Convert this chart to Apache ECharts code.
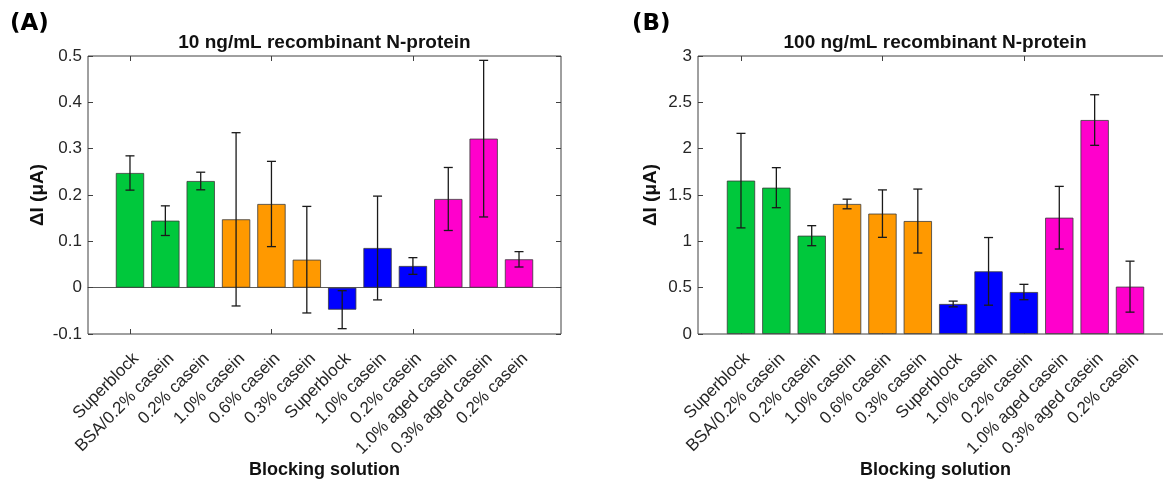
<!DOCTYPE html>
<html>
<head>
<meta charset="utf-8">
<script src="https://cdn.jsdelivr.net/npm/echarts@6/dist/echarts.min.js"></script>
<style>
  html, body { margin: 0; padding: 0; overflow: hidden; background: #ffffff; }
  #chart { width: 1200px; height: 479px; }
</style>
</head>
<body>
<div id="chart"></div>
<script>
// Blocking solutions tested (same order in both panels)
const categories = [
  'Superblock', 'BSA/0.2% casein', '0.2% casein', '1.0% casein', '0.6% casein', '0.3% casein',
  'Superblock', '1.0% casein', '0.2% casein', '1.0% aged casein', '0.3% aged casein', '0.2% casein'
];
// Group of each bar (0 green, 1 orange, 2 blue, 3 magenta)
const groups = [0, 0, 0, 1, 1, 1, 2, 2, 2, 3, 3, 3];

// (A) 10 ng/mL recombinant N-protein: mean ΔI and error (µA)
const meanA = [0.2475, 0.1446, 0.2302, 0.1475, 0.1806, 0.0604, -0.0475, 0.0856, 0.0468, 0.1914, 0.3216, 0.0612];
const errA  = [0.037, 0.032, 0.019, 0.187, 0.092, 0.115, 0.041, 0.112, 0.018, 0.068, 0.169, 0.0166];

// (B) 100 ng/mL recombinant N-protein: mean ΔI and error (µA)
const meanB = [1.655, 1.579, 1.061, 1.403, 1.299, 1.219, 0.324, 0.676, 0.453, 1.255, 2.309, 0.511];
const errB  = [0.51, 0.216, 0.108, 0.052, 0.256, 0.345, 0.031, 0.365, 0.083, 0.338, 0.273, 0.275];

// Y tick labels
const yTicksA = [-0.1, 0, 0.1, 0.2, 0.3, 0.4, 0.5];
const yTicksB = [0, 0.5, 1, 1.5, 2, 2.5, 3];

const palette = ['#00C83C', '#FF9900', '#0000FF', '#FF00CC'];
const FONT = '"Liberation Sans", Arial, Helvetica, sans-serif';
const TEXT = '#262626';
const FRAME = '#404040';

const TOP = 56, HEIGHT = 278;

const grid = [], xAxis = [], yAxis = [], series = [], title = [];

function addPanel(cfg) {
  const g0 = grid.length;
  const ticks = cfg.ticks;
  const yMin = ticks[0], yMax = ticks[ticks.length - 1];
  const yInt = +(ticks[1] - ticks[0]).toFixed(6);

  // frame grid: box, y ticks/labels, zero line
  grid.push({ left: cfg.frameLeft, top: TOP, width: cfg.frameWidth, height: HEIGHT,
              outerBoundsMode: 'none', containLabel: false,
              show: true, borderColor: FRAME, borderWidth: 1, backgroundColor: 'transparent' });
  // bar grid: category bands
  grid.push({ left: cfg.barsLeft, top: TOP, width: cfg.barsWidth, height: HEIGHT,
              outerBoundsMode: 'none', containLabel: false });
  // label grid: rotated category labels
  grid.push({ left: cfg.barsLeft + 6, top: TOP, width: cfg.barsWidth, height: HEIGHT,
              outerBoundsMode: 'none', containLabel: false });

  const y0 = yAxis.length;
  yAxis.push({
    gridIndex: g0, type: 'value', position: 'left', min: yMin, max: yMax, interval: yInt,
    axisLine: { show: false },
    axisTick: { show: true, inside: true, length: 5, lineStyle: { color: FRAME } },
    axisLabel: { margin: 6, fontSize: 17, color: TEXT, fontFamily: FONT },
    splitLine: { show: false },
    name: 'ΔI (μA)', nameLocation: 'middle', nameGap: cfg.nameGap, nameRotate: 90,
    nameTextStyle: { fontSize: 19, fontWeight: 'bold', color: '#111', fontFamily: FONT }
  });
  yAxis.push({
    gridIndex: g0, type: 'value', position: 'right', min: yMin, max: yMax, interval: yInt,
    axisLine: { show: false },
    axisTick: { show: true, inside: true, length: 5, lineStyle: { color: FRAME } },
    axisLabel: { show: false }, splitLine: { show: false }
  });
  yAxis.push({ gridIndex: g0 + 1, type: 'value', min: yMin, max: yMax, show: false });
  yAxis.push({ gridIndex: g0 + 2, type: 'value', min: yMin, max: yMax, show: false });

  const x0 = xAxis.length;
  xAxis.push({
    gridIndex: g0, type: 'value', min: 0, max: 1, position: 'bottom',
    axisLine: { show: cfg.zeroLine, onZero: true, lineStyle: { color: '#5a5a5a', width: 1 } },
    axisTick: { show: false }, axisLabel: { show: false }, splitLine: { show: false }
  });
  xAxis.push({
    gridIndex: g0 + 1, type: 'category', data: categories, position: 'bottom',
    axisLine: { show: false, onZero: false },
    axisTick: { show: true, inside: true, alignWithLabel: true, length: 5, lineStyle: { color: FRAME } },
    axisLabel: { show: false }, splitLine: { show: false },
    name: 'Blocking solution', nameLocation: 'middle', nameGap: 127,
    nameTextStyle: { fontSize: 18, fontWeight: 'bold', color: '#111', fontFamily: FONT }
  });
  xAxis.push({
    gridIndex: g0 + 1, type: 'category', data: categories, position: 'top',
    axisLine: { show: false, onZero: false },
    axisTick: { show: true, inside: true, alignWithLabel: true, length: 5, lineStyle: { color: FRAME } },
    axisLabel: { show: false }, splitLine: { show: false }
  });
  xAxis.push({
    gridIndex: g0 + 2, type: 'category', data: categories, position: 'bottom',
    axisLine: { show: false, onZero: false }, axisTick: { show: false },
    axisLabel: { show: true, interval: 0, rotate: 45, margin: 22, fontSize: 17, color: TEXT, fontFamily: FONT },
    splitLine: { show: false }
  });

  series.push({
    type: 'bar', xAxisIndex: x0 + 1, yAxisIndex: y0 + 2,
    barCategoryGap: '20%',
    data: cfg.mean.map((v, i) => ({
      value: v,
      itemStyle: { color: palette[groups[i]], borderColor: '#3a3a3a', borderWidth: 0.8 }
    })),
    silent: true, animation: false
  });
  series.push({
    type: 'custom', xAxisIndex: x0 + 1, yAxisIndex: y0 + 2, z: 5,
    data: cfg.mean.map((v, i) => [i, v - cfg.err[i], v + cfg.err[i]]),
    encode: { x: 0, y: [1, 2] },
    renderItem: function (params, api) {
      const lo = api.coord([api.value(0), api.value(1)]);
      const hi = api.coord([api.value(0), api.value(2)]);
      const cap = 4.5;
      const style = { stroke: '#1a1a1a', lineWidth: 1.3, fill: null };
      return {
        type: 'group',
        children: [
          { type: 'line', shape: { x1: lo[0], y1: lo[1], x2: hi[0], y2: hi[1] }, style },
          { type: 'line', shape: { x1: hi[0] - cap, y1: hi[1], x2: hi[0] + cap, y2: hi[1] }, style },
          { type: 'line', shape: { x1: lo[0] - cap, y1: lo[1], x2: lo[0] + cap, y2: lo[1] }, style }
        ]
      };
    },
    silent: true, animation: false
  });

  title.push({
    text: cfg.title, left: cfg.frameLeft + cfg.frameWidth / 2, top: 33, textAlign: 'center', padding: 0,
    textStyle: { fontSize: 19, fontWeight: 'bold', color: '#111', fontFamily: FONT }
  });
}

addPanel({
  title: '10 ng/mL recombinant N-protein',
  frameLeft: 88, frameWidth: 473, barsLeft: 112.3, barsWidth: 424.4,
  ticks: yTicksA, zeroLine: true, nameGap: 41, mean: meanA, err: errA
});
addPanel({
  title: '100 ng/mL recombinant N-protein',
  frameLeft: 698, frameWidth: 474, barsLeft: 723.3, barsWidth: 424.4,
  ticks: yTicksB, zeroLine: false, nameGap: 38, mean: meanB, err: errB
});

const chart = echarts.init(document.getElementById('chart'), null, { renderer: 'canvas' });
chart.setOption({
  backgroundColor: '#ffffff',
  animation: false,
  title, grid, xAxis, yAxis, series,
  graphic: [
    { type: 'text', left: 10, top: 13,
      style: { text: '(A)', font: 'bold 23px "DejaVu Sans", sans-serif', fill: '#000' } },
    { type: 'text', left: 632, top: 13,
      style: { text: '(B)', font: 'bold 23px "DejaVu Sans", sans-serif', fill: '#000' } }
  ]
});
</script>
</body>
</html>
